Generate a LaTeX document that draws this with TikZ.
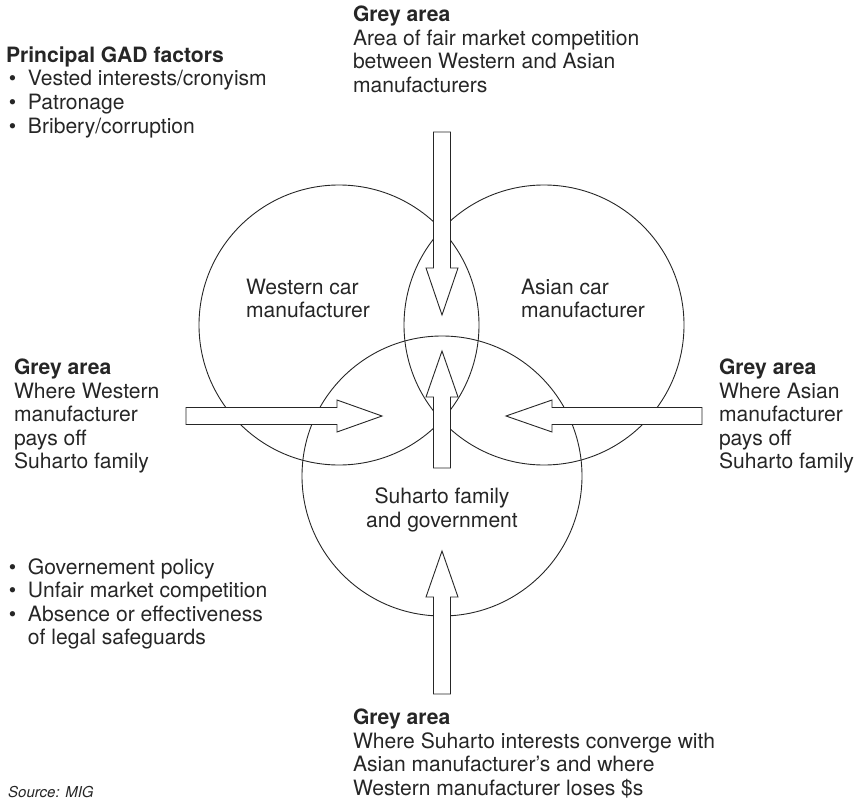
\documentclass[tikz,border=0pt]{standalone}
\usepackage{fontspec}
\setmainfont{TeX Gyre Heros}
\definecolor{ink}{HTML}{262626}
\newcommand\mytextsize{\fontsize{21.1}{23.6}\selectfont}
\begin{document}
\begin{tikzpicture}[x=1pt,y=-1pt,
  ring/.style={circle, draw=ink, line width=0.9pt, minimum size=280pt, inner sep=0pt},
  blockarrow/.style={draw=ink, fill=white, line width=0.9pt, line join=miter},
  txt/.style={anchor=north west, inner sep=0pt, outer sep=0pt, align=left, font=\mytextsize, text=ink},
  ctxt/.style={anchor=north, inner sep=0pt, outer sep=0pt, align=center, font=\mytextsize, text=ink}
]
\useasboundingbox (0,0) rectangle (858,802);

% circles
\node[ring] (west) at (339,325) {};
\node[ring] (asia) at (544,325) {};
\node[ring] (suh)  at (442,476) {};

% block arrows
\draw[blockarrow] (433.5,132) -- (450.5,132) -- (450.5,268) -- (458,268) -- (442,315) -- (426,268) -- (433.5,268) -- cycle;
\draw[blockarrow] (433.5,468) -- (450.5,468) -- (450.5,397) -- (458,397) -- (442,351) -- (426,397) -- (433.5,397) -- cycle;
\draw[blockarrow] (433.5,694) -- (450.5,694) -- (450.5,597) -- (458,597) -- (442,551) -- (426,597) -- (433.5,597) -- cycle;
\draw[blockarrow] (186,407.5) -- (337,407.5) -- (337,400) -- (382,416) -- (337,432) -- (337,424.5) -- (186,424.5) -- cycle;
\draw[blockarrow] (702,407.5) -- (552,407.5) -- (552,400) -- (506,416) -- (552,432) -- (552,424.5) -- (702,424.5) -- cycle;

% circle labels
\node[txt] (wlab) at (246,279) {Western car\\manufacturer};
\node[txt] (alab) at (521,279) {Asian car\\manufacturer};
\node[ctxt] (slab) at (442,488) {Suharto family\\and government};

% top grey area
\node[txt] (gtop) at (353,5.8) {\textbf{Grey area}\\Area of fair market competition\\between Western and Asian\\manufacturers};

% principal factors
\node[txt] (ptitle) at (6,47) {\textbf{Principal GAD factors}};
\node[txt] (plist) at (9,70.6) {\makebox[19pt][l]{•}Vested interests/cronyism\\\makebox[19pt][l]{•}Patronage\\\makebox[19pt][l]{•}Bribery/corruption};

% left grey area
\node[txt] (gleft) at (14,358.8) {\textbf{Grey area}\\Where Western\\manufacturer\\pays off\\Suharto family};

% right grey area
\node[txt] (gright) at (719,358.8) {\textbf{Grey area}\\Where Asian\\manufacturer\\pays off\\Suharto family};

% lower bullets
\node[txt] (blist) at (9,558.3) {\makebox[19pt][l]{•}Governement policy\\\makebox[19pt][l]{•}Unfair market competition\\\makebox[19pt][l]{•}Absence or effectiveness\\\hspace*{19pt}of legal safeguards};

% bottom grey area
\node[txt] (gbot) at (353,708.8) {\textbf{Grey area}\\Where Suharto interests converge with\\Asian manufacturer’s and where\\Western manufacturer loses \$s};

% source
\node[anchor=north west, inner sep=0pt, font=\fontsize{15}{18}\selectfont\itshape, text=ink] (src) at (8,786) {Source: MIG};
\end{tikzpicture}
\end{document}
